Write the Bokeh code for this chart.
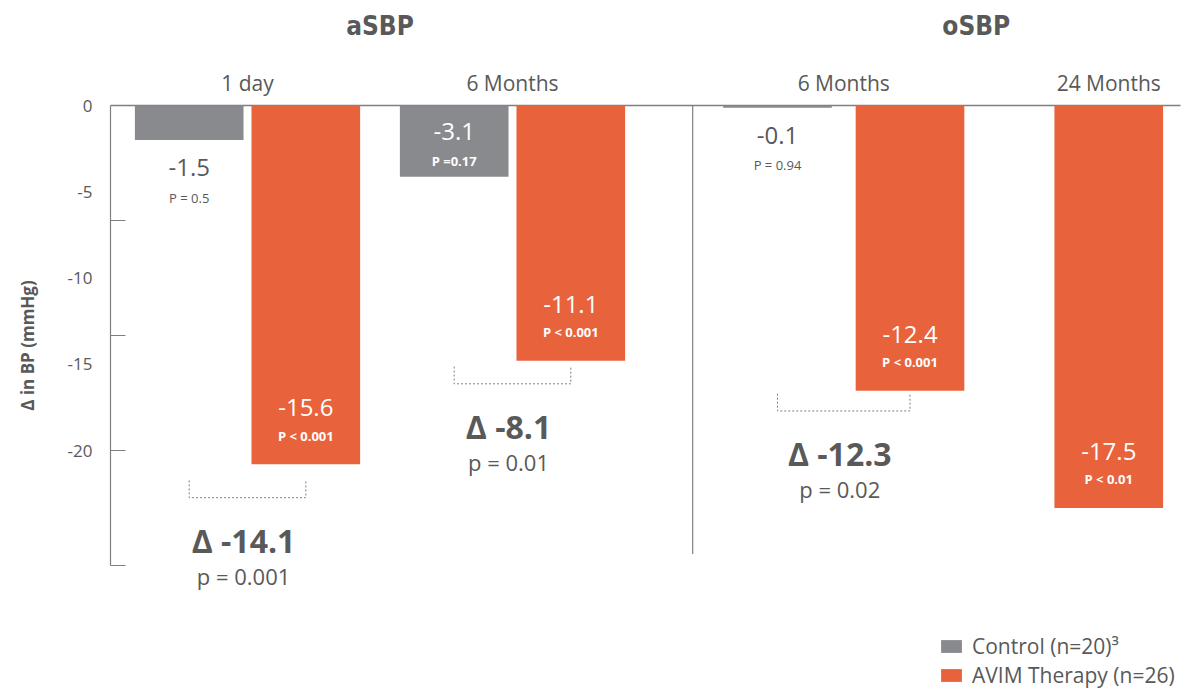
from bokeh.plotting import figure
from bokeh.models import Range1d, FixedTicker, CustomJSTickFormatter, Legend, LegendItem
from bokeh.core.properties import value
from bokeh.embed import file_html
from bokeh.resources import INLINE

# ---------------- data ----------------
sections = ["aSBP", "oSBP"]
timepoints = ["1 day", "6 Months", "6 Months", "24 Months"]
section_of = [0, 0, 1, 1]
control = [-1.5, -3.1, -0.1, None]
control_p = ["P = 0.5", "P =0.17", "P = 0.94", None]
avim = [-15.6, -11.1, -12.4, -17.5]
avim_p = ["P < 0.001", "P < 0.001", "P < 0.001", "P < 0.01"]
delta = [-14.1, -8.1, -12.3, None]
delta_p = ["p = 0.001", "p = 0.01", "p = 0.02", None]
y_ticks = [0, -5, -10, -15, -20]
series_names = ["Control (n=20)\u00b3", "AVIM Therapy (n=26)"]
y_label = "\u0394 in BP (mmHg)"

# ---------------- style / layout ----------------
GRAY = "#898a8e"
ORANGE = "#e8633b"
TXT = "#595959"
LINE = "#7f7f7f"
FONT = "Open Sans"
TITLE_FONT = "DejaVu Sans Condensed"
centers = [0.0, 1.0, 2.25, 3.25]
offsets = [0.22, 0.22, 0.25, 0.0]
bracket_gap = [1.45, 1.0, 0.88, 0.0]
BAR_W = 0.41
PX_X = 265.0
PX_Y = 23.0

W, H = 1190, 690
frame_left, frame_right = 110, W
zero_x, zero_y = 247, 105
x_start = (frame_left - zero_x) / PX_X
x_end = (frame_right - zero_x) / PX_X
y_top = zero_y / PX_Y
y_bot = -(H - zero_y) / PX_Y

p = figure(width=W, height=H, output_backend="svg", toolbar_location=None,
           x_range=Range1d(x_start, x_end), y_range=Range1d(y_bot, y_top),
           x_axis_location=None, min_border_left=frame_left,
           min_border_right=0, min_border_top=0, min_border_bottom=0)
p.outline_line_color = None
p.grid.visible = False
p.background_fill_color = "white"

# y axis: labels (as printed) and tick marks at true positions
yax = p.yaxis[0]
yax.bounds = (min(y_ticks), 0)
yax.ticker = FixedTicker(ticks=[t * 0.75 for t in y_ticks], minor_ticks=y_ticks)
yax.formatter = CustomJSTickFormatter(code="return String(Math.round(tick / 0.75));")
yax.major_tick_in = 0
yax.major_tick_out = 0
yax.minor_tick_in = 15
yax.minor_tick_out = 0
yax.minor_tick_line_color = LINE
yax.minor_tick_line_width = 1.2
yax.axis_line_color = LINE
yax.axis_line_width = 1.2
yax.major_label_text_font = FONT
yax.major_label_text_font_size = "17px"
yax.major_label_text_color = TXT
yax.major_label_standoff = 18
yax.axis_label = y_label
yax.axis_label_text_font = FONT
yax.axis_label_text_font_size = "17px"
yax.axis_label_text_font_style = "bold"
yax.axis_label_text_color = TXT
yax.axis_label_standoff = 26

# zero line and section divider
p.segment(x0=[x_start], y0=[0], x1=[(1180 - zero_x) / PX_X], y1=[0], line_color=LINE, line_width=1.5)
div_x = (centers[1] + centers[2]) / 2 + 0.055
p.segment(x0=[div_x], y0=[0], x1=[div_x], y1=[-19.5], line_color=LINE, line_width=1.2)

# bars
cx, cv, ax_, av = [], [], [], []
for i in range(len(timepoints)):
    if control[i] is not None:
        cx.append(centers[i] - offsets[i]); cv.append(control[i])
    ax_.append(centers[i] + offsets[i]); av.append(avim[i])
r_ctrl = p.vbar(x=cx, top=0, bottom=cv, width=BAR_W, fill_color=GRAY, line_color=None)
r_avim = p.vbar(x=ax_, top=0, bottom=av, width=BAR_W, fill_color=ORANGE, line_color=None)

def txt(xs, ys, texts, size, color, style="normal", font=FONT):
    p.text(x=xs, y=ys, text=texts, text_font=value(font), text_font_size=size,
           text_color=color, text_font_style=style, text_align="center", text_baseline="middle")

# AVIM value labels
txt(ax_, [v + 2.45 for v in av], ["%.1f" % v for v in av], "24px", "white")
txt(ax_, [v + 1.25 for v in av], [s for s in avim_p], "13px", "white", "bold")

# control value labels
for i in range(len(timepoints)):
    v = control[i]
    if v is None:
        continue
    x = centers[i] - offsets[i]
    if v < -2.5:
        txt([x], [v + 1.95], ["%.1f" % v], "24px", "white")
        txt([x], [v + 0.68], [control_p[i]], "13px", "white", "bold")
    else:
        txt([x], [v - 1.2], ["%.1f" % v], "24px", TXT)
        txt([x], [v - 2.5], [control_p[i]], "13px", TXT)

# brackets and delta annotations
for i in range(len(timepoints)):
    if delta[i] is None:
        continue
    x0 = centers[i] - offsets[i]
    x1 = centers[i] + offsets[i]
    by = avim[i] - bracket_gap[i]
    p.multi_line(xs=[[x0, x0, x1, x1]], ys=[[by + 0.75, by, by, by + 0.75]],
                 line_color=LINE, line_width=1, line_dash="2 2")
    txt([centers[i] - 0.015], [by - 1.85], ["\u0394 %.1f" % delta[i]], "32px", TXT, "bold")
    txt([centers[i] - 0.015], [by - 3.4], [delta_p[i]], "22px", TXT)

# time point labels
txt(centers, [1.0] * len(centers), timepoints, "21px", TXT)

# section titles
for s, name in enumerate(sections):
    xs = [centers[i] for i in range(len(centers)) if section_of[i] == s]
    txt([sum(xs) / len(xs)], [3.45], [name], "26px", TXT, "bold", TITLE_FONT)

# legend
legend = Legend(items=[LegendItem(label=series_names[0], renderers=[r_ctrl]),
                       LegendItem(label=series_names[1], renderers=[r_avim])],
                location=(828, 1), orientation="vertical")
legend.glyph_width = 26
legend.glyph_height = 16
legend.label_height = 20
legend.label_standoff = 8
legend.spacing = 1
legend.padding = 0
legend.margin = 0
legend.border_line_color = None
legend.background_fill_alpha = 0
legend.label_text_font = FONT
legend.label_text_font_size = "21px"
legend.label_text_color = TXT
p.add_layout(legend)

open("out.html", "w").write(file_html(p, INLINE))
